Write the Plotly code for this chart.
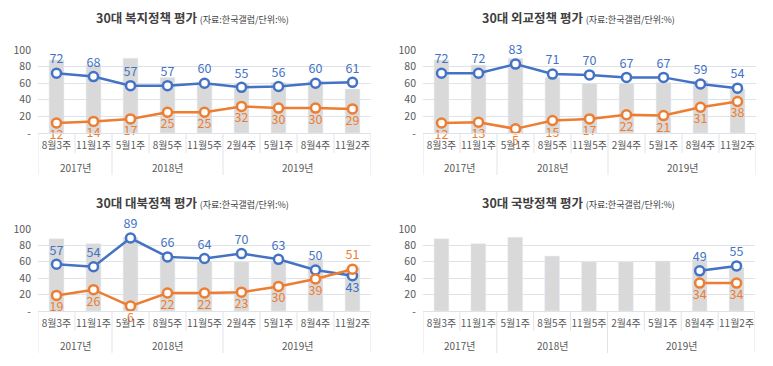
import plotly.graph_objects as go

years = ["2017년", "2017년", "2018년", "2018년", "2018년", "2019년", "2019년", "2019년", "2019년"]
weeks = ["8월3주", "11월1주", "5월1주", "8월5주", "11월5주", "2월4주", "5월1주", "8월4주", "11월2주"]
approval = [88, 82, 90, 67, 60, 60, 61, 63, 53]

titles = ["복지정책", "외교정책", "대북정책", "국방정책"]
pos_welfare = [72, 68, 57, 57, 60, 55, 56, 60, 61]
neg_welfare = [12, 14, 17, 25, 25, 32, 30, 30, 29]
pos_foreign = [72, 72, 83, 71, 70, 67, 67, 59, 54]
neg_foreign = [12, 13, 5, 15, 17, 22, 21, 31, 38]
pos_north = [57, 54, 89, 66, 64, 70, 63, 50, 43]
neg_north = [19, 26, 6, 22, 22, 23, 30, 39, 51]
pos_defense = [None, None, None, None, None, None, None, 49, 55]
neg_defense = [None, None, None, None, None, None, None, 34, 34]

BLUE = "#4472c4"
ORANGE = "#ed7d31"
BAR = "#d9d9d9"
GRID = "#dfe3e8"
TXT = "#595959"
FONT = "Noto Sans CJK KR"

# page offset (default body margin) and figure size
OFF = 8
W, H = 773 - OFF, 366 - OFF


def px_x(v):
    return (v - OFF) / W


def px_y(v):
    return 1 - (v - OFF) / H


# panel boxes in window pixels: (left, right, top, bottom)
boxes = [(38, 371, 50, 133), (423, 756, 50, 133), (38, 371, 229, 311), (423, 755, 229, 311)]
series = [(pos_welfare, neg_welfare), (pos_foreign, neg_foreign),
          (pos_north, neg_north), (pos_defense, neg_defense)]

idx = list(range(len(weeks)))

groups = []
for k, yv in enumerate(years):
    if groups and groups[-1][0] == yv:
        groups[-1][2] = k
    else:
        groups.append([yv, k, k])

fig = go.Figure()
shapes = []
annotations = []

for i, ((pos, neg), (l, r, t, b)) in enumerate(zip(series, boxes)):
    sfx = "" if i == 0 else str(i + 1)
    xa, ya = "x" + sfx, "y" + sfx
    ph = b - t
    fig.add_trace(go.Bar(x=idx, y=approval, marker_color=BAR, width=0.4,
                         xaxis=xa, yaxis=ya, showlegend=False, hoverinfo="skip"))
    pos_tp = ["top center"] * len(pos)
    neg_tp = ["bottom center"] * len(neg)
    if i == 2:
        pos_tp[-1] = "bottom center"
        neg_tp[-1] = "top center"
    for vals, col, tp in ((pos, BLUE, pos_tp), (neg, ORANGE, neg_tp)):
        fig.add_trace(go.Scatter(
            x=idx, y=vals, mode="lines+markers+text", xaxis=xa, yaxis=ya,
            line=dict(color=col, width=2.5),
            marker=dict(size=9, color="white", line=dict(color=col, width=2.5)),
            text=[("" if v is None else str(v)) for v in vals],
            textposition=tp, textfont=dict(color=col, size=12.5, family=FONT),
            cliponaxis=False, showlegend=False, connectgaps=False))
    fig.layout["xaxis" + sfx] = dict(
        domain=[px_x(l), px_x(r)], anchor=ya, range=[-0.5, len(weeks) - 0.5],
        tickvals=idx, ticktext=weeks, tickangle=0, ticks="", automargin=False,
        ticklabelstandoff=3,
        showline=True, linecolor=GRID, showgrid=False, zeroline=False,
        tickfont=dict(size=10, color=TXT, family=FONT))
    fig.layout["yaxis" + sfx] = dict(
        domain=[px_y(b), px_y(t)], anchor=xa, range=[0, 100], automargin=False,
        tickvals=[0, 20, 40, 60, 80, 100],
        ticktext=["-", "20", "40", "60", "80", "100"],
        showgrid=True, gridcolor=GRID, zeroline=False, showline=False,
        ticks="", ticklabelstandoff=6,
        tickfont=dict(size=10.5, color=TXT, family=FONT))
    inner = -20.0 / ph
    outer = -42.0 / ph
    year_bounds = set()
    for g in groups:
        year_bounds.add(g[1] - 0.5)
        year_bounds.add(g[2] + 0.5)
    for bd in [k - 0.5 for k in range(len(weeks) + 1)]:
        shapes.append(dict(type="line", xref=xa, yref=ya + " domain",
                           x0=bd, x1=bd, y0=0, y1=outer if bd in year_bounds else inner,
                           line=dict(color=GRID, width=1)))
    for g in groups:
        annotations.append(dict(
            x=(g[1] + g[2]) / 2, y=-34.5 / ph, xref=xa, yref=ya + " domain",
            text=g[0], showarrow=False, xanchor="center", yanchor="middle",
            font=dict(size=10, color=TXT, family=FONT)))

title_pos = [(192, 17), (578, 17), (192, 202), (578, 202)]
for tt, (tx, ty) in zip(titles, title_pos):
    annotations.append(dict(
        x=px_x(tx), y=px_y(ty), xref="paper", yref="paper", showarrow=False,
        xanchor="center", yanchor="middle",
        text=f"<b>30대 {tt} 평가</b> <span style='font-size:9px'>(자료:한국갤럽/단위:%)</span>",
        font=dict(size=12.5, color="#404040", family=FONT)))

fig.update_layout(
    width=W, height=H, margin=dict(l=0, r=0, t=0, b=0, pad=0),
    plot_bgcolor="white", paper_bgcolor="white", barmode="overlay",
    font=dict(family=FONT, color=TXT), shapes=shapes, annotations=annotations)

fig.write_html("out.html")
